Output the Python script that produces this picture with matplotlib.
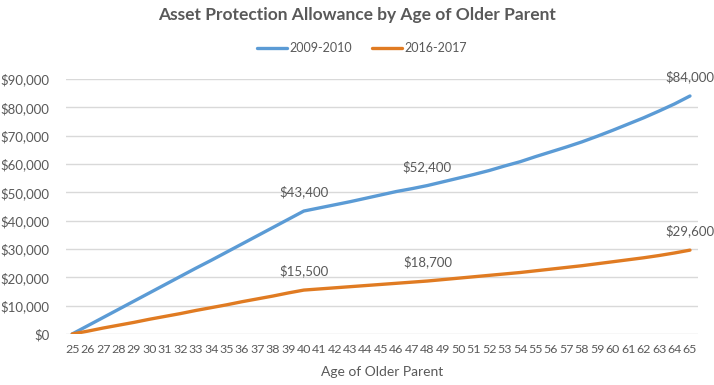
import matplotlib
matplotlib.use("Agg")
import matplotlib.pyplot as plt
from matplotlib.ticker import FuncFormatter

ages = list(range(25, 66))
apa_2009 = [0, 2900, 5800, 8700, 11600, 14500, 17400, 20300, 23200, 26000,
            28900, 31800, 34700, 37600, 40500, 43400, 44500, 45600, 46700, 47900,
            49100, 50300, 51300, 52400, 53700, 55000, 56300, 57700, 59300, 60800,
            62600, 64300, 66000, 67800, 69800, 71900, 74100, 76300, 78700, 81200,
            84000]
apa_2016 = [0, 1000, 2100, 3100, 4100, 5200, 6200, 7200, 8300, 9300,
            10300, 11400, 12400, 13400, 14500, 15500, 15900, 16300, 16700, 17100,
            17500, 17900, 18300, 18700, 19200, 19700, 20200, 20700, 21200, 21700,
            22300, 22900, 23500, 24100, 24800, 25500, 26200, 26900, 27700, 28600,
            29600]
labeled_ages = [40, 48, 65]
series_names = ["2009-2010", "2016-2017"]
title = "Asset Protection Allowance by Age of Older Parent"
xlabel = "Age of Older Parent"

plt.rcParams['font.family'] = ['Lato', 'DejaVu Sans']
txt = '#595959'

fig = plt.figure(figsize=(7.14, 3.85), dpi=100)
ax = fig.add_axes([66/714, (385-334)/385, (698-66)/714, (334-79)/385])

c1, c2 = '#5B9BD5', '#E07B22'
ax.plot(ages, apa_2009, color=c1, lw=2.4, label=series_names[0], solid_capstyle='round')
ax.plot(ages, apa_2016, color=c2, lw=2.4, label=series_names[1], solid_capstyle='round')

for series in (apa_2009, apa_2016):
    for a in labeled_ages:
        v = series[ages.index(a)]
        ax.annotate(f"${v:,.0f}", (a, v), xytext=(0, 13.7), textcoords='offset points',
                    ha='center', va='center', fontsize=9.5, color=txt)

ax.set_xlim(24.6, 65.52)
ax.set_ylim(0, 90000)
ax.set_yticks(range(0, 90001, 10000))
ax.yaxis.set_major_formatter(FuncFormatter(lambda v, p: f"${v:,.0f}"))
ax.set_xticks(ages)
ax.set_xticklabels([str(a) for a in ages])
ax.grid(axis='y', color='#d9d9d9', lw=1)
ax.set_axisbelow(True)
for s in ax.spines.values():
    s.set_visible(False)
ax.tick_params(axis='both', length=0, colors=txt)
ax.tick_params(axis='x', pad=7, labelsize=8.9)
ax.tick_params(axis='y', pad=12, labelsize=9.5)
ax.set_xlabel(xlabel, fontsize=10, color=txt, labelpad=8)

fig.text(357/714, 1 - 15/385, title, ha='center', va='center', fontsize=12.5,
         fontweight='bold', color=txt)
leg = ax.legend(loc='center', bbox_to_anchor=(362/714, 1 - 48/385), bbox_transform=fig.transFigure,
                ncol=2, frameon=False, fontsize=9, handlelength=2.4, columnspacing=1.6,
                handletextpad=0.2, labelcolor=txt)
fig.savefig("out.png", dpi=100)
